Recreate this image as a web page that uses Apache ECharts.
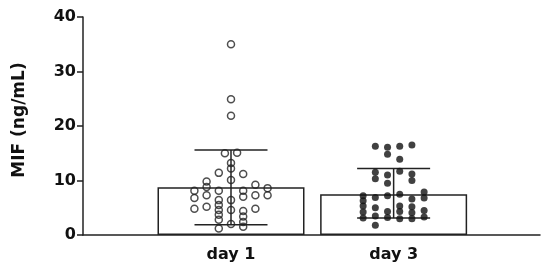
<!DOCTYPE html>
<html>
<head>
<meta charset="utf-8">
<script src="https://cdn.jsdelivr.net/npm/echarts@6/dist/echarts.min.js"></script>
<style>
  html, body { margin: 0; padding: 0; background: #fff; }
  #chart { width: 550px; height: 275px; }
</style>
</head>
<body>
<div id="chart"></div>
<script>
// groups on the x axis
const categories = ['day 1', 'day 3']
// bar height (mean) and error bar ends for each group
const means = [8.75, 7.5]
const errLow = [1.9, 3.1]
const errHigh = [15.6, 12.2]
const yTicks = [0, 10, 20, 30, 40]

// individual values, day 1 (open circles); slot = swarm column
const day1Values = [35.0, 24.9, 21.9, 13.2, 12.2, 10.1, 6.4, 4.6, 2.0,
  15.0, 15.1,
  11.4, 8.1, 6.4, 5.5, 4.6, 3.7, 2.8, 1.2,
  11.2, 8.1, 7.0, 4.4, 3.4, 2.4, 1.5,
  9.8, 8.8, 7.3, 5.2,
  9.2, 7.3, 4.8,
  8.1, 6.8, 4.8,
  8.6, 7.3]
const day1Slots = [0, 0, 0, 0, 0, 0, 0, 0, 0,
  -0.5, 0.5,
  -1, -1, -1, -1, -1, -1, -1, -1,
  1, 1, 1, 1, 1, 1, 1,
  -2, -2, -2, -2,
  2, 2, 2,
  -3, -3, -3,
  3, 3]

// individual values, day 3 (filled circles)
const day3Values = [7.2, 6.3, 5.3, 4.2, 3.1,
  16.3, 11.5, 10.3, 6.9, 5.0, 3.5, 1.8,
  16.1, 14.8, 11.0, 9.5, 7.2, 4.3, 3.2,
  16.3, 13.9, 11.7, 7.5, 5.3, 4.3, 3.0,
  16.5, 11.2, 10.0, 6.6, 5.2, 4.1, 3.0,
  7.9, 6.8, 4.5, 3.3]
const day3Slots = [-2.5, -2.5, -2.5, -2.5, -2.5,
  -1.5, -1.5, -1.5, -1.5, -1.5, -1.5, -1.5,
  -0.5, -0.5, -0.5, -0.5, -0.5, -0.5, -0.5,
  0.5, 0.5, 0.5, 0.5, 0.5, 0.5, 0.5,
  1.5, 1.5, 1.5, 1.5, 1.5, 1.5, 1.5,
  2.5, 2.5, 2.5, 2.5]

const slotStep = 0.075
const font = 'DejaVu Sans, sans-serif'
const ink = '#222'
const textInk = '#111'

const chart = echarts.init(document.getElementById('chart'))

const groupPos = categories.map((c, i) => i + 1)
const swarm = (vals, slots, pos) => vals.map((v, i) => [pos + slots[i] * slotStep, v])

chart.setOption({
  animation: false,
  grid: { left: 83, right: 10, top: 17, bottom: 40 },
  xAxis: {
    type: 'value',
    min: 0.09,
    max: 2.9,
    splitLine: { show: false },
    axisLine: { show: true, lineStyle: { color: ink, width: 1.5 } },
    axisTick: { show: false },
    axisLabel: {
      customValues: groupPos,
      formatter: v => categories[Math.round(v) - 1] || '',
      color: textInk,
      fontFamily: font,
      fontWeight: 'bold',
      fontSize: 16,
      margin: 12
    }
  },
  yAxis: {
    type: 'value',
    min: yTicks[0],
    max: yTicks[yTicks.length - 1],
    interval: 10,
    name: 'MIF (ng/mL)',
    nameLocation: 'middle',
    nameGap: 55,
    nameTextStyle: { color: textInk, fontFamily: font, fontWeight: 'bold', fontSize: 17, padding: [0, 0, 0, 12] },
    splitLine: { show: false },
    axisLine: { show: true, lineStyle: { color: ink, width: 1.5 } },
    axisTick: { show: true, length: 6, lineStyle: { color: ink, width: 1.5 } },
    axisLabel: { color: textInk, fontFamily: font, fontWeight: 'bold', fontSize: 16, margin: 7 }
  },
  series: [
    {
      type: 'bar',
      barWidth: 147,
      z: 1,
      itemStyle: { color: '#fff', borderColor: ink, borderWidth: 1.5 },
      data: means.map((m, i) => [groupPos[i], m])
    },
    {
      type: 'custom',
      z: 3,
      renderItem: function (params, api) {
        const x = api.value(0)
        const lo = api.coord([x, api.value(1)])
        const hi = api.coord([x, api.value(2)])
        const hw = 36.5
        const style = { stroke: ink, lineWidth: 1.5 }
        return {
          type: 'group',
          children: [
            { type: 'line', shape: { x1: lo[0], y1: lo[1], x2: hi[0], y2: hi[1] }, style },
            { type: 'line', shape: { x1: lo[0] - hw, y1: lo[1], x2: lo[0] + hw, y2: lo[1] }, style },
            { type: 'line', shape: { x1: hi[0] - hw, y1: hi[1], x2: hi[0] + hw, y2: hi[1] }, style }
          ]
        }
      },
      data: groupPos.map((p, i) => [p, errLow[i], errHigh[i]])
    },
    {
      type: 'scatter',
      z: 4,
      symbol: 'circle',
      symbolSize: 7,
      itemStyle: { color: 'rgba(0,0,0,0)', borderColor: ink, borderWidth: 1.5 },
      data: swarm(day1Values, day1Slots, groupPos[0])
    },
    {
      type: 'scatter',
      z: 4,
      symbol: 'circle',
      symbolSize: 7,
      itemStyle: { color: '#111' },
      data: swarm(day3Values, day3Slots, groupPos[1])
    }
  ]
})
</script>
</body>
</html>
